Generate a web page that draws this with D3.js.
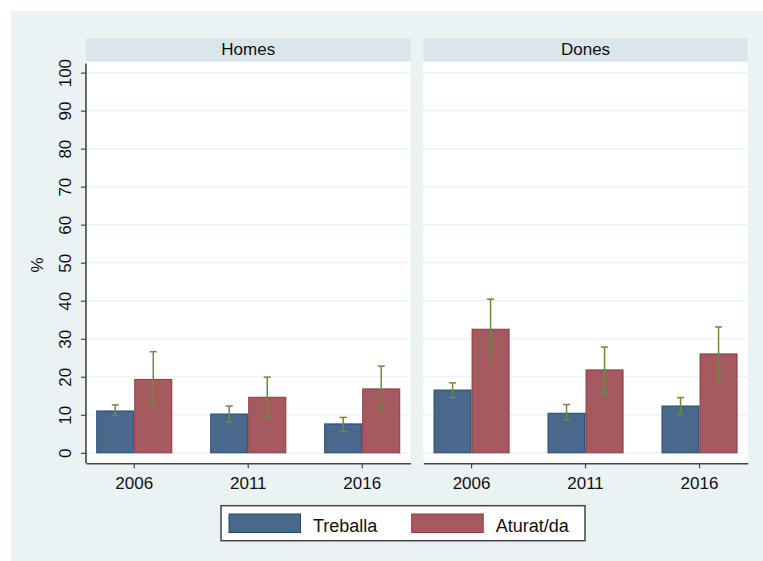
<!DOCTYPE html>
<html><head><meta charset="utf-8">
<script src="https://cdn.jsdelivr.net/npm/d3@7/dist/d3.min.js"></script>
<style>body{margin:0;background:#fff;}svg{display:block;font-family:"Liberation Sans",Arial,sans-serif;}</style>
</head><body>
<script>
const years = ["2006", "2011", "2016"];
const panels = ["Homes", "Dones"];
const seriesNames = ["Treballa", "Aturat/da"];
const homesTreballa = [11.0, 10.2, 7.6];
const homesTreballaLo = [9.8, 8.1, 5.6];
const homesTreballaHi = [12.6, 12.3, 9.3];
const homesAturat = [19.3, 14.6, 16.8];
const homesAturatLo = [12.3, 9.5, 11.1];
const homesAturatHi = [26.6, 19.9, 22.8];
const donesTreballa = [16.5, 10.4, 12.3];
const donesTreballaLo = [14.5, 8.6, 10.1];
const donesTreballaHi = [18.4, 12.7, 14.5];
const donesAturat = [32.5, 21.8, 26.0];
const donesAturatLo = [24.7, 15.4, 18.6];
const donesAturatHi = [40.4, 27.8, 33.1];
const yTicks = [0, 10, 20, 30, 40, 50, 60, 70, 80, 90, 100];

const panelData = {
  Homes: [
    {vals: homesTreballa, lo: homesTreballaLo, hi: homesTreballaHi},
    {vals: homesAturat, lo: homesAturatLo, hi: homesAturatHi}
  ],
  Dones: [
    {vals: donesTreballa, lo: donesTreballaLo, hi: donesTreballaHi},
    {vals: donesAturat, lo: donesAturatLo, hi: donesAturatHi}
  ]
};

const W = 763, H = 561;
const fills = ["#48698b", "#a55a5f"];
const strokes = ["#1d4870", "#8e3840"];
const errColor = "#6a8a3c";

const svg = d3.select("body").append("svg").attr("width", W).attr("height", H);
svg.append("rect").attr("x", 11).attr("y", 11).attr("width", W - 11).attr("height", H - 11).attr("fill", "#eaf2f3");

const panelLeft = {Homes: 86, Dones: 423.3};
const panelW = 324.5;
const headerTop = 38.3, headerBot = 61.7, axisY = 463.3;

const y = d3.scaleLinear().domain([0, 100]).range([452.8, 72.6]);
const x0 = d3.scaleBand().domain(years).range([0, panelW]).paddingInner(0.333).paddingOuter(0.09);
const x1 = d3.scaleBand().domain(seriesNames).range([0, x0.bandwidth()]);

panels.forEach(p => {
  const g = svg.append("g").attr("transform", `translate(${panelLeft[p]},0)`);
  g.append("rect").attr("x", 0).attr("y", headerTop).attr("width", panelW).attr("height", headerBot - headerTop).attr("fill", "#d9e6eb");
  g.append("text").attr("x", panelW / 2).attr("y", headerTop + 17).attr("text-anchor", "middle")
    .attr("font-size", 17).attr("fill", "#111").text(p);
  g.append("rect").attr("x", 0).attr("y", headerBot).attr("width", panelW).attr("height", axisY - headerBot).attr("fill", "#fff");
  // gridlines
  g.selectAll("line.grid").data(yTicks).enter().append("line")
    .attr("x1", 0).attr("x2", panelW).attr("y1", d => y(d)).attr("y2", d => y(d))
    .attr("stroke", "#eaf2f3").attr("stroke-width", 1.2);
  // bars
  panelData[p].forEach((s, si) => {
    g.selectAll(null).data(years).enter().append("rect")
      .attr("x", (d, i) => x0(d) + x1(seriesNames[si]) + 0.5)
      .attr("width", x1.bandwidth() - 1)
      .attr("y", (d, i) => y(s.vals[i]))
      .attr("height", (d, i) => y(0) - y(s.vals[i]))
      .attr("fill", fills[si]).attr("stroke", strokes[si]).attr("stroke-width", 1);
  });
  // error bars
  panelData[p].forEach((s, si) => {
    const cx = d => x0(d) + x1(seriesNames[si]) + x1.bandwidth() / 2;
    const eg = g.selectAll(null).data(years).enter().append("g")
      .attr("stroke", errColor).attr("stroke-width", 1.5);
    eg.append("line").attr("x1", cx).attr("x2", cx)
      .attr("y1", (d, i) => y(s.lo[i])).attr("y2", (d, i) => y(s.hi[i]));
    eg.append("line").attr("x1", d => cx(d) - 3.5).attr("x2", d => cx(d) + 3.5)
      .attr("y1", (d, i) => y(s.lo[i])).attr("y2", (d, i) => y(s.lo[i]));
    eg.append("line").attr("x1", d => cx(d) - 3.5).attr("x2", d => cx(d) + 3.5)
      .attr("y1", (d, i) => y(s.hi[i])).attr("y2", (d, i) => y(s.hi[i]));
  });
  // x axis
  const xa = g.append("g").attr("transform", `translate(0,${axisY})`)
    .call(d3.axisBottom(x0).tickSize(5).tickSizeOuter(0).tickPadding(9));
  xa.select(".domain").attr("stroke", "#444").attr("stroke-width", 1.6);
  xa.selectAll(".tick line").attr("stroke", "#444").attr("stroke-width", 1.2);
  xa.selectAll(".tick text").attr("font-size", 17).attr("fill", "#111").attr("font-family", "Liberation Sans, Arial, sans-serif");
});

// y axis on Homes panel
const ya = svg.append("g").attr("transform", `translate(86,0)`)
  .call(d3.axisLeft(y).tickValues(yTicks).tickSize(5).tickSizeOuter(0).tickPadding(0));
ya.select(".domain").attr("stroke", "#444").attr("stroke-width", 1.6).attr("d", `M0,${y(100) - 9}V${axisY}`);
ya.selectAll(".tick line").attr("stroke", "#444").attr("stroke-width", 1.2);
ya.selectAll(".tick text").attr("font-size", 17).attr("fill", "#111")
  .attr("font-family", "Liberation Sans, Arial, sans-serif")
  .attr("x", 0).attr("dy", 0).attr("text-anchor", "middle")
  .attr("transform", "translate(-15,0) rotate(-90)");
svg.append("text").attr("transform", "translate(43,265) rotate(-90)")
  .attr("text-anchor", "middle").attr("font-size", 17).attr("fill", "#111").text("%");

// legend
const lg = svg.append("g");
lg.append("rect").attr("x", 221).attr("y", 505.7).attr("width", 364).attr("height", 35)
  .attr("fill", "#fff").attr("stroke", "#444").attr("stroke-width", 1.5);
const legX = [229, 411.7];
seriesNames.forEach((n, i) => {
  lg.append("rect").attr("x", legX[i]).attr("y", 514).attr("width", 71.5).attr("height", 18.5)
    .attr("fill", fills[i]).attr("stroke", strokes[i]).attr("stroke-width", 1);
  lg.append("text").attr("x", legX[i] + 84).attr("y", 531.5).attr("font-size", 18).attr("fill", "#111").text(n);
});
</script>
</body></html>
